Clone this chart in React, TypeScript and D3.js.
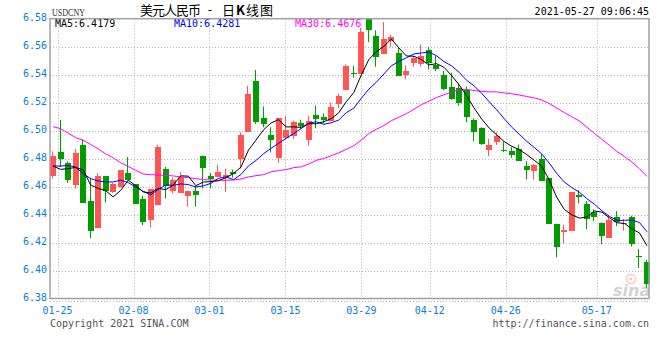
import React from 'react';
import * as d3 from 'd3';

const openP = [
  6.4676, 6.4846, 6.4768, 6.4609, 6.4898, 6.4498, 6.4302, 6.4676, 6.4562, 6.4598,
  6.4697, 6.4617, 6.4510, 6.4359, 6.4465, 6.4725, 6.4569, 6.4557, 6.4534, 6.4569,
  6.4822, 6.4678, 6.4669, 6.4669, 6.4704, 6.4799, 6.4993, 6.5355, 6.5088, 6.4969,
  6.4804, 6.4948, 6.4964, 6.5052, 6.4934, 6.5114, 6.5099, 6.5066, 6.5189, 6.5289,
  6.5414, 6.5407, 6.5795, 6.5679, 6.5551, 6.5639, 6.5556, 6.5395, 6.5480, 6.5473,
  6.5575, 6.5466, 6.5398, 6.5315, 6.5308, 6.5289, 6.5076, 6.5017, 6.4858, 6.4922,
  6.4863, 6.4851, 6.4870, 6.4747, 6.4709, 6.4799, 6.4662, 6.4335, 6.4273, 6.4285,
  6.4538, 6.4475, 6.4420, 6.4337, 6.4236, 6.4385, 6.4335, 6.4385, 6.4107, 6.4058,
];
const highP = [
  6.4851, 6.5076, 6.4780, 6.4870, 6.4936, 6.4664, 6.4697, 6.4676, 6.4626, 6.4716,
  6.4811, 6.4617, 6.4534, 6.4581, 6.4898, 6.4740, 6.4664, 6.4704, 6.4569, 6.4604,
  6.4822, 6.4697, 6.4756, 6.4728, 6.4721, 6.4988, 6.5320, 6.5433, 6.5173, 6.5024,
  6.5088, 6.5102, 6.5071, 6.5078, 6.5107, 6.5178, 6.5123, 6.5201, 6.5265, 6.5473,
  6.5462, 6.5734, 6.5800, 6.5717, 6.5776, 6.5686, 6.5592, 6.5466, 6.5533, 6.5615,
  6.5599, 6.5533, 6.5426, 6.5414, 6.5336, 6.5315, 6.5088, 6.5024, 6.4941, 6.4988,
  6.4922, 6.4882, 6.4900, 6.4782, 6.4763, 6.4834, 6.4662, 6.4335, 6.4325, 6.4562,
  6.4574, 6.4498, 6.4437, 6.4344, 6.4392, 6.4425, 6.4368, 6.4392, 6.4153, 6.4077,
];
const lowP = [
  6.4657, 6.4740, 6.4626, 6.4586, 6.4486, 6.4231, 6.4302, 6.4486, 6.4555, 6.4592,
  6.4650, 6.4479, 6.4325, 6.4307, 6.4465, 6.4515, 6.4550, 6.4557, 6.4456, 6.4456,
  6.4586, 6.4586, 6.4669, 6.4562, 6.4664, 6.4728, 6.4993, 6.5047, 6.5024, 6.4846,
  6.4770, 6.4941, 6.4941, 6.5012, 6.4893, 6.5017, 6.5052, 6.5066, 6.5159, 6.5289,
  6.5379, 6.5407, 6.5634, 6.5457, 6.5551, 6.5596, 6.5391, 6.5367, 6.5457, 6.5457,
  6.5438, 6.5426, 6.5289, 6.5220, 6.5178, 6.5059, 6.4924, 6.4898, 6.4818, 6.4898,
  6.4846, 6.4806, 6.4785, 6.4650, 6.4650, 6.4638, 6.4333, 6.4096, 6.4195, 6.4285,
  6.4479, 6.4295, 6.4354, 6.4188, 6.4236, 6.4318, 6.4285, 6.4172, 6.4018, 6.3876,
];
const closeP = [
  6.4818, 6.4799, 6.4650, 6.4841, 6.4486, 6.4283, 6.4676, 6.4569, 6.4619, 6.4716,
  6.4650, 6.4479, 6.4344, 6.4581, 6.4882, 6.4605, 6.4645, 6.4671, 6.4569, 6.4543,
  6.4735, 6.4657, 6.4704, 6.4680, 6.4688, 6.4969, 6.5265, 6.5059, 6.5047, 6.4934,
  6.5088, 6.5005, 6.5059, 6.5031, 6.5066, 6.5083, 6.5078, 6.5166, 6.5244, 6.5462,
  6.5410, 6.5705, 6.5717, 6.5525, 6.5656, 6.5670, 6.5391, 6.5426, 6.5516, 6.5533,
  6.5480, 6.5438, 6.5296, 6.5225, 6.5201, 6.5095, 6.4993, 6.4905, 6.4900, 6.4960,
  6.4851, 6.4827, 6.4785, 6.4721, 6.4756, 6.4638, 6.4333, 6.4167, 6.4290, 6.4562,
  6.4522, 6.4368, 6.4385, 6.4250, 6.4361, 6.4344, 6.4342, 6.4191, 6.4103, 6.3904,
];

// moving-average values before a full window exists
const ma5Head = [6.4747, 6.4723, 6.4728, 6.4737];
const ma10Head = [6.4747, 6.4747, 6.4751, 6.4740, 6.4692, 6.4657, 6.4640, 6.4633, 6.4633];
const ma30Head = [
  6.5028, 6.5014, 6.4983, 6.4950, 6.4931, 6.4901, 6.4870, 6.4834, 6.4806, 6.4770,
  6.4744, 6.4716, 6.4690, 6.4685, 6.4683, 6.4680, 6.4676, 6.4669, 6.4664, 6.4657,
  6.4650, 6.4647, 6.4645, 6.4645, 6.4647, 6.4654, 6.4669, 6.4678, 6.4685,
];

// legend values as printed on the chart
const maLegendNames = ['MA5', 'MA10', 'MA30'];
const maLegendValues = ['6.4179', '6.4281', '6.4676'];

const yTicks = [6.38, 6.40, 6.42, 6.44, 6.46, 6.48, 6.50, 6.52, 6.54, 6.56, 6.58];
const xTickIdx = [1, 11, 21, 31, 41, 50, 60, 72];
const xTickLabels = ['01-25', '02-08', '03-01', '03-15', '03-29', '04-12', '04-26', '05-17'];

const MONO = '"DejaVu Sans Mono", monospace';
const CJK = '"Noto Sans CJK SC", sans-serif';
const RED = '#ff5555';
const GREEN = '#009c00';
const AXIS_BLUE = '#0a7fc9';
const MA_COLORS = ['#000000', '#0000ff', '#ff00ff'];
const MA_X = [55, 174, 295];

function movingAvg(n: number, head: number[]): number[] {
  return closeP.map((_, i) =>
    i < n - 1 ? head[i] : (d3.mean(closeP.slice(i - n + 1, i + 1)) as number)
  );
}

export default function App() {
  const L = 50, R = 650, T = 18.7, B = 298.5;
  const n = closeP.length;
  const xBand = d3.scaleBand<number>().domain(d3.range(n)).range([L, R]).paddingInner(0.2);
  const xGrid = d3.scaleLinear().domain([0, n - 1]).range([L, R]);
  const y = d3.scaleLinear().domain([6.38, 6.58]).range([B, T]);
  const cx = (i: number) => (xBand(i) as number) + xBand.bandwidth() / 2;

  const ma5 = movingAvg(5, ma5Head);
  const ma10 = movingAvg(10, ma10Head);
  const ma30 = movingAvg(30, ma30Head);
  const line = d3.line<number>().x((_, i) => cx(i)).y((d) => y(d));

  return (
    <svg width={660} height={360} style={{ display: 'block', position: 'absolute', left: 0, top: 0, background: '#fff' }}>
      <defs>
        <clipPath id="plot">
          <rect x={L} y={T} width={R - L} height={B - T} />
        </clipPath>
      </defs>
      {/* header */}
      <text x={52} y={16} fontFamily='"Liberation Serif", serif' fontSize={11} fill="#333" textLength={33} lengthAdjust="spacingAndGlyphs">USDCNY</text>
      <text x={140} y={15} fontFamily={CJK} fontSize={13} fill="#000" textLength={61} lengthAdjust="spacing">美元人民币</text>
      <text x={210} y={14} fontFamily={CJK} fontSize={13} fill="#000" textAnchor="middle">-</text>
      <text x={222} y={15} fontFamily={CJK} fontSize={13} fill="#000" textLength={51} lengthAdjust="spacing">日<tspan fontWeight="bold">K</tspan>线图</text>
      <text x={649} y={15} fontFamily={MONO} fontSize={10} fill="#000" textAnchor="end">2021-05-27 09:06:45</text>

      {/* horizontal grid */}
      {yTicks.slice(1, -1).map((v) => (
        <line key={'h' + v} x1={L} x2={R} y1={Math.round(y(v)) + 0.5} y2={Math.round(y(v)) + 0.5} stroke="#b4b4b4" strokeDasharray="1,2" />
      ))}
      {/* vertical grid */}
      {xTickIdx.map((i) => (
        <line key={'v' + i} x1={Math.round(xGrid(i)) + 0.5} x2={Math.round(xGrid(i)) + 0.5} y1={T} y2={B} stroke="#b4b4b4" strokeDasharray="1,2" />
      ))}

      {/* y labels */}
      {yTicks.map((v) => (
        <text key={'yl' + v} x={47} y={y(v) + 2.5} textAnchor="end" fontFamily={MONO} fontSize={10} fill={AXIS_BLUE}>{v.toFixed(2)}</text>
      ))}
      {/* x labels */}
      {xTickIdx.map((i, k) => (
        <text key={'xl' + i} x={xGrid(i)} y={314} textAnchor="middle" fontFamily={MONO} fontSize={10} fill={AXIS_BLUE}>{xTickLabels[k]}</text>
      ))}

      {/* watermark */}
      <g opacity={0.55}>
        <circle cx={631} cy={279} r={4.5} fill="none" stroke="#f0a0a0" strokeWidth={1.5} />
        <circle cx={631} cy={279} r={1.5} fill="#e88" />
        <text x={613} y={296} fontFamily='"DejaVu Sans", sans-serif' fontStyle="italic" fontWeight="bold" fontSize={16} fill="#b0b0b0">sina</text>
      </g>

      {/* candles */}
      <g clipPath="url(#plot)">
        {closeP.map((c, i) => {
          const o = openP[i];
          const up = c > o;
          const col = up ? RED : GREEN;
          const left = Math.round(cx(i) - 3);
          const top = Math.round(y(Math.max(o, c)));
          const bot = Math.round(y(Math.min(o, c)));
          const h = Math.max(1, bot - top);
          return (
            <g key={'c' + i}>
              <line x1={left + 2.5} x2={left + 2.5} y1={y(highP[i])} y2={y(lowP[i])} stroke={col} strokeWidth={1} />
              <rect x={left} y={top} width={6} height={h} fill={col} shapeRendering="crispEdges" />
            </g>
          );
        })}
        <path d={line(ma30) as string} fill="none" stroke={MA_COLORS[2]} strokeWidth={1} />
        <path d={line(ma10) as string} fill="none" stroke={MA_COLORS[1]} strokeWidth={1} />
        <path d={line(ma5) as string} fill="none" stroke={MA_COLORS[0]} strokeWidth={1} />
      </g>

      {/* MA legend */}
      {maLegendNames.map((nm, k) => (
        <text key={nm} x={MA_X[k]} y={27} fontFamily={MONO} fontSize={10} fill={MA_COLORS[k]}>{nm + ':' + maLegendValues[k]}</text>
      ))}

      {/* frame */}
      <rect x={L} y={T} width={R - L - 1} height={B - T} fill="none" stroke="#a0a0a0" strokeWidth={1.5} />
      <line x1={L} x2={R} y1={301.5} y2={301.5} stroke="#b4b4b4" strokeDasharray="1,2" />

      {/* footer */}
      <text x={50} y={327} fontFamily={MONO} fontSize={10} fill="#555">Copyright 2021 SINA.COM</text>
      <text x={649} y={327} fontFamily={MONO} fontSize={10} fill="#555" textAnchor="end">http://finance.sina.com.cn</text>
    </svg>
  );
}
